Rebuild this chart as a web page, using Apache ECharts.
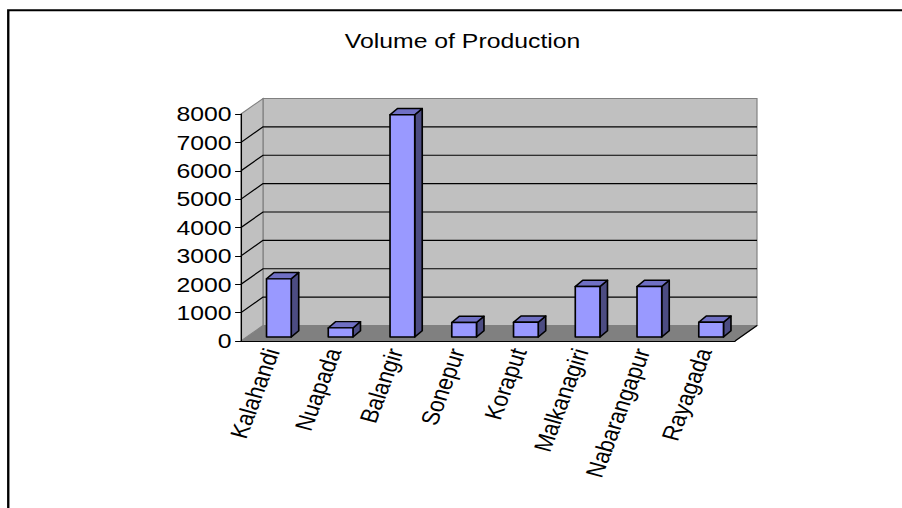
<!DOCTYPE html>
<html>
<head>
<meta charset="utf-8">
<script src="https://cdn.jsdelivr.net/npm/echarts@6/dist/echarts.min.js"></script>
<style>
  html, body { margin: 0; padding: 0; background: #fff; overflow: hidden; }
  /* the original picture is stretched sideways, so draw narrow and stretch the div */
  #chart { width: 764px; height: 508px; transform: scaleX(1.18063); transform-origin: 0 0; }
</style>
</head>
<body>
<div id="chart"></div>
<script>
const categories = ['Kalahandi', 'Nuapada', 'Balangir', 'Sonepur', 'Koraput', 'Malkanagiri', 'Nabarangapur', 'Rayagada'];
const production = [2050, 320, 7830, 510, 520, 1780, 1780, 520];
const yMin = 0;
const yMax = 8000;
const yStep = 1000;

const STRETCH = 902 / 764;
const px = x => x / STRETCH;   // screen x -> unstretched x

// fake 3d depth of the walls and of the bars
const WALL_DX = px(22), WALL_DY = -15.5;
const BAR_SHIFT_X = px(7), BAR_SHIFT_Y = -4;
const BAR_DX = px(7.5), BAR_DY = -6.3;
const FONT = 'Liberation Sans, Arial, sans-serif';

function renderWalls(params, api) {
  const band = api.size([1, 0])[0];
  const left = api.coord([0, yMin])[0] - band / 2;
  const right = api.coord([categories.length - 1, yMin])[0] + band / 2;
  const y0 = api.coord([0, yMin])[1];
  const yTop = api.coord([0, yMax])[1];
  const children = [];

  // floor
  children.push({
    type: 'polygon',
    shape: { points: [[left, y0], [right, y0], [right + WALL_DX, y0 + WALL_DY], [left + WALL_DX, y0 + WALL_DY]] },
    style: { fill: '#808080', stroke: '#808080' }
  });
  // back wall
  children.push({
    type: 'rect',
    shape: { x: left + WALL_DX, y: yTop + WALL_DY, width: right - left, height: y0 - yTop },
    style: { fill: '#c0c0c0', stroke: '#808080' }
  });
  // side wall
  children.push({
    type: 'polygon',
    shape: { points: [[left, yTop], [left + WALL_DX, yTop + WALL_DY], [left + WALL_DX, y0 + WALL_DY], [left, y0]] },
    style: { fill: '#c0c0c0', stroke: '#808080' }
  });
  // gridlines across side + back wall
  for (let v = yMin + yStep; v < yMax; v += yStep) {
    const y = api.coord([0, v])[1];
    children.push({
      type: 'polyline',
      shape: { points: [[left, y], [left + WALL_DX, y + WALL_DY], [right + WALL_DX, y + WALL_DY]] },
      style: { stroke: '#000', fill: null, lineWidth: 1.2 }
    });
  }
  // right edge of the floor
  children.push({
    type: 'line',
    shape: { x1: right, y1: y0, x2: right + WALL_DX, y2: y0 + WALL_DY },
    style: { stroke: '#000', lineWidth: 1 }
  });
  return { type: 'group', children };
}

function renderBar(params, api) {
  const i = api.value(0);
  const v = api.value(1);
  const band = api.size([1, 0])[0];
  const w = band * 0.4;
  const top = api.coord([i, v]);
  const base = api.coord([i, yMin]);
  const x = top[0] - w / 2 + BAR_SHIFT_X;
  const yT = top[1] + BAR_SHIFT_Y;
  const yB = base[1] + BAR_SHIFT_Y;
  const edge = { stroke: '#000', lineWidth: 1.4, lineJoin: 'round' };
  return {
    type: 'group',
    children: [
      {
        type: 'polygon',
        shape: { points: [[x + w, yT], [x + w + BAR_DX, yT + BAR_DY], [x + w + BAR_DX, yB + BAR_DY], [x + w, yB]] },
        style: Object.assign({ fill: '#4c4c82' }, edge)
      },
      {
        type: 'polygon',
        shape: { points: [[x, yT], [x + w, yT], [x + w + BAR_DX, yT + BAR_DY], [x + BAR_DX, yT + BAR_DY]] },
        style: Object.assign({ fill: '#7070c4' }, edge)
      },
      {
        type: 'rect',
        shape: { x: x, y: yT, width: w, height: yB - yT },
        style: Object.assign({ fill: '#9999ff' }, edge)
      }
    ]
  };
}

const chart = echarts.init(document.getElementById('chart'), null, { renderer: 'svg' });

chart.setOption({
  animation: false,
  backgroundColor: '#fff',
  title: {
    text: 'Volume of Production',
    left: 292,
    top: 30,
    padding: 0,
    textStyle: { fontFamily: FONT, fontSize: 21, fontWeight: 'normal', color: '#000' }
  },
  graphic: [
    {
      type: 'rect',
      shape: { x: 7, y: 10.3, width: 2000, height: 2000 },
      style: { fill: null, stroke: '#000', lineWidth: 2 },
      silent: true
    }
  ],
  grid: {
    left: px(241),
    right: 764 - px(735),
    top: 114,
    bottom: 167
  },
  xAxis: {
    type: 'category',
    data: categories,
    z: 10,
    axisLine: { lineStyle: { color: '#000', width: 1 } },
    axisTick: { length: 5, lineStyle: { color: '#000' } },
    axisLabel: { interval: 0, rotate: 72, margin: 8, fontFamily: FONT, fontSize: 21, color: '#000' },
    splitLine: { show: false }
  },
  yAxis: {
    type: 'value',
    min: yMin,
    max: yMax,
    interval: yStep,
    z: 10,
    axisLine: { show: true, lineStyle: { color: '#000', width: 1 } },
    axisTick: { show: true, length: 5, lineStyle: { color: '#000' } },
    axisLabel: { margin: 8, fontFamily: FONT, fontSize: 21, color: '#000', formatter: v => String(v) },
    splitLine: { show: false }
  },
  series: [
    {
      type: 'custom',
      z: 1,
      silent: true,
      renderItem: renderWalls,
      data: [[0, 0]],
      encode: { x: 0, y: 1 }
    },
    {
      name: 'Volume of Production',
      type: 'custom',
      z: 2,
      renderItem: renderBar,
      data: production.map((v, i) => [i, v]),
      encode: { x: 0, y: 1 }
    }
  ]
});
</script>
</body>
</html>
